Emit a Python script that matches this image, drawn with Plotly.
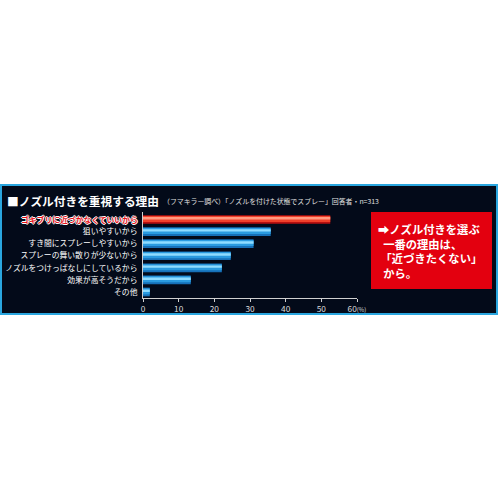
import plotly.graph_objects as go

reasons = [
    "ゴキブリに近づかなくていいから",
    "狙いやすいから",
    "すき間にスプレーしやすいから",
    "スプレーの舞い散りが少ないから",
    "ノズルをつけっぱなしにしているから",
    "効果が高そうだから",
    "その他",
]
percent = [52.5, 35.8, 31.0, 24.6, 22.1, 13.4, 1.9]
x_ticks = [0, 10, 20, 30, 40, 50, 60]
x_tick_labels = ["0", "10", "20", "30", "40", "50", "60<span style='font-size:6px'>(%)</span>"]

FONT = "Noto Sans CJK JP"
W = 500.0

# base colour, mid band, highlight per bar (first bar is red)
base_col = ["#b80f0f"] + ["#1670b8"] * 6
mid_col = ["#f0402a"] + ["#2a9be0"] * 6
hi_col = ["#ff9a80"] + ["#8fdcff"] * 6

fig = go.Figure()
fig.add_trace(go.Bar(y=reasons, x=percent, orientation="h", marker_color=base_col,
                     marker_line_width=0, width=0.72, offset=-0.36, hoverinfo="skip"))
fig.add_trace(go.Bar(y=reasons, x=percent, orientation="h", marker_color=mid_col,
                     marker_line_width=0, width=0.5, offset=-0.3, hoverinfo="skip"))
fig.add_trace(go.Bar(y=reasons, x=percent, orientation="h", marker_color=hi_col,
                     marker_line_width=0, width=0.2, offset=-0.2, hoverinfo="skip"))

# dark banner with light blue border
fig.add_shape(type="rect", xref="paper", yref="paper", x0=1 / W, x1=497 / W,
              y0=1 - 314 / W, y1=1 - 185 / W, fillcolor="#030a19",
              line=dict(color="#2aa6df", width=2), layer="below")
# red message box
fig.add_shape(type="rect", xref="paper", yref="paper", x0=371 / W, x1=492 / W,
              y0=1 - 289 / W, y1=1 - 212 / W, fillcolor="#e3000f",
              line_width=0, layer="below")

fig.add_annotation(xref="paper", yref="paper", x=5 / W, y=1 - 200 / W,
                   xanchor="left", yanchor="middle", showarrow=False,
                   text="<b>■ノズル付きを重視する理由</b>",
                   font=dict(family=FONT, size=11.7, color="white"))
fig.add_annotation(xref="paper", yref="paper", x=161 / W, y=1 - 201 / W,
                   xanchor="left", yanchor="middle", showarrow=False,
                   text="（フマキラー調べ）「ノズルを付けた状態でスプレー」回答者・n=313",
                   font=dict(family=FONT, size=6.9, color="#e0e0e0"))
fig.add_annotation(xref="paper", yref="paper", x=376 / W, y=1 - 251 / W,
                   xanchor="left", yanchor="middle", showarrow=False, align="left",
                   text="<b>➡ノズル付きを選ぶ<br>&nbsp;&nbsp;一番の理由は、<br>&nbsp;「近づきたくない」<br>&nbsp;&nbsp;から。</b>",
                   font=dict(family=FONT, size=11.3, color="white"))
# highlighted first category label
fig.add_annotation(xref="paper", yref="y", x=140 / W, y=reasons[0],
                   xanchor="right", yanchor="middle", showarrow=False,
                   text="<b>" + reasons[0] + "</b>",
                   font=dict(family=FONT, size=7.8, color="#e8141c",
                             shadow="1px 0 0 white, -1px 0 0 white, 0 1px 0 white, 0 -1px 0 white"))

fig.update_layout(
    width=500, height=500,
    margin=dict(l=0, r=0, t=0, b=0),
    paper_bgcolor="white",
    plot_bgcolor="#364850",
    barmode="overlay",
    showlegend=False,
    font=dict(family=FONT),
    xaxis=dict(domain=[143 / W, 357 / W], range=[0, 60], tickvals=x_ticks,
               ticktext=x_tick_labels, showgrid=False, zeroline=False,
               showline=True, linecolor="#d0d0d0", linewidth=1,
               ticks="outside", ticklen=3, tickcolor="#d0d0d0", automargin=False,
               tickfont=dict(size=8.3, color="#dcdcdc")),
    yaxis=dict(domain=[1 - 298 / W, 1 - 212 / W], autorange="reversed",
               tickvals=reasons, ticktext=[""] + reasons[1:], showgrid=False,
               showline=True, linecolor="#d0d0d0", linewidth=1, ticks="",
               automargin=False, ticklabelstandoff=3,
               tickfont=dict(size=7.8, color="white")),
)

fig.write_html("out.html", config={"displayModeBar": False},
               post_script="document.body.style.margin='0';")
